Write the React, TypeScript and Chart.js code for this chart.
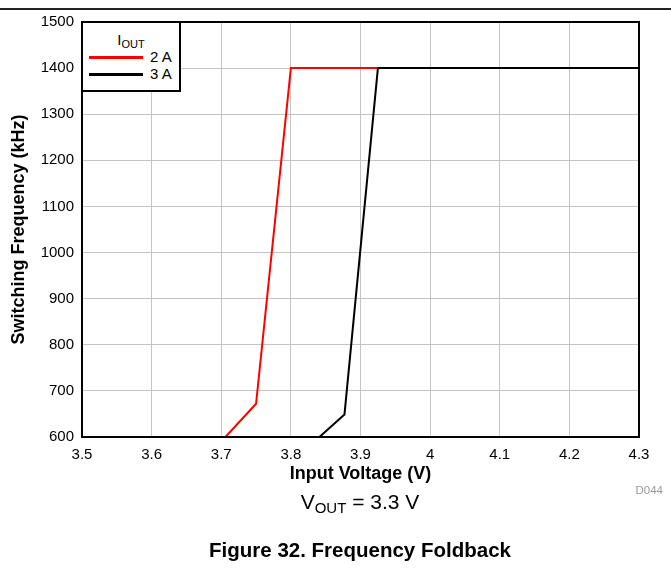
import React, { useEffect, useRef } from "react";
import { Chart, registerables } from "chart.js";

Chart.register(...registerables);

const xTickLabels = ["3.5", "3.6", "3.7", "3.8", "3.9", "4", "4.1", "4.2", "4.3"];
const yTickLabels = ["600", "700", "800", "900", "1000", "1100", "1200", "1300", "1400", "1500"];

const seriesNames = ["2 A", "3 A"];
const vin2A = [3.706, 3.75, 3.8, 4.3];
const freq2A = [600, 672, 1400, 1400];
const vin3A = [3.841, 3.877, 3.925, 4.3];
const freq3A = [600, 649, 1400, 1400];

const FONT = "Arial, 'Liberation Sans', Helvetica, sans-serif";

const framePlugin = {
  id: "frame",
  afterDatasetsDraw(chart: any) {
    const { ctx, chartArea } = chart;
    ctx.save();
    ctx.strokeStyle = "#000";
    ctx.lineWidth = 2;
    ctx.strokeRect(chartArea.left, chartArea.top, chartArea.right - chartArea.left, chartArea.bottom - chartArea.top);
    ctx.restore();
  },
};

export default function App() {
  const ref = useRef<HTMLCanvasElement>(null);

  useEffect(() => {
    if (!ref.current) return;
    const toPts = (xs: number[], ys: number[]) => xs.map((x, i) => ({ x, y: ys[i] }));
    const chart = new Chart(ref.current, {
      type: "line",
      data: {
        datasets: [
          {
            label: seriesNames[0],
            data: toPts(vin2A, freq2A),
            borderColor: "#ff0000",
            borderWidth: 2,
            pointRadius: 0,
            tension: 0,
            order: 1,
          },
          {
            label: seriesNames[1],
            data: toPts(vin3A, freq3A),
            borderColor: "#000000",
            borderWidth: 2,
            pointRadius: 0,
            tension: 0,
            order: 0,
          },
        ],
      },
      options: {
        responsive: false,
        animation: false,
        layout: { padding: { top: 22, right: 32, bottom: 0, left: 0 } },
        plugins: { legend: { display: false }, tooltip: { enabled: false } },
        scales: {
          x: {
            type: "linear",
            min: 3.5,
            max: 4.3,
            afterFit: (s: any) => {
              s.height = 139;
            },
            afterBuildTicks: (s: any) => {
              s.ticks = xTickLabels.map((t) => ({ value: parseFloat(t) }));
            },
            ticks: {
              padding: 9,
              color: "#000",
              font: { family: FONT, size: 15 },
              maxRotation: 0,
              callback: (_v: any, i: number) => xTickLabels[i],
            },
            grid: { color: "#c4c4c4", lineWidth: 1, drawTicks: false },
            border: { display: false },
            title: {
              display: true,
              text: "Input Voltage (V)",
              color: "#000",
              font: { family: FONT, size: 18, weight: "bold" },
              padding: { top: 0, bottom: 91 },
            },
          },
          y: {
            type: "linear",
            min: 600,
            max: 1500,
            afterFit: (s: any) => {
              s.width = 82;
            },
            afterBuildTicks: (s: any) => {
              s.ticks = yTickLabels.map((t) => ({ value: parseFloat(t) }));
            },
            ticks: {
              padding: 8,
              color: "#000",
              font: { family: FONT, size: 15 },
              callback: (_v: any, i: number) => yTickLabels[i],
            },
            grid: { color: "#c4c4c4", lineWidth: 1, drawTicks: false },
            border: { display: false },
            title: {
              display: true,
              text: "Switching Frequency (kHz)",
              color: "#000",
              font: { family: FONT, size: 18, weight: "bold" },
              padding: { top: 8, bottom: 0 },
            },
          },
        },
      },
      plugins: [framePlugin],
    });
    return () => chart.destroy();
  }, []);

  const abs = (o: React.CSSProperties): React.CSSProperties => ({ position: "absolute", ...o });

  return (
    <div style={{ position: "fixed", left: 0, top: 0, width: 671, height: 576, background: "#fff", fontFamily: FONT, overflow: "hidden" }}>
      <div style={abs({ left: 0, top: 8, width: 671, height: 1.5, background: "#222" })} />
      <canvas ref={ref} width={671} height={576} style={abs({ left: 0, top: 0, width: 671, height: 576 })} />
      <div
        style={abs({
          left: 81,
          top: 21,
          width: 100,
          height: 71,
          border: "2px solid #000",
          background: "#fff",
          boxSizing: "border-box",
        })}
      >
        <div style={abs({ left: 0, width: 96, top: 8, textAlign: "center", fontSize: 15, lineHeight: "17px", color: "#000" })}>
          I<sub style={{ fontSize: 11, verticalAlign: "-3px" }}>OUT</sub>
        </div>
        <div style={abs({ left: 6, top: 33, width: 54, height: 2.5, background: "#ff0000" })} />
        <div style={abs({ left: 67, top: 25, fontSize: 15, lineHeight: "18px", color: "#000" })}>{seriesNames[0]}</div>
        <div style={abs({ left: 6, top: 50, width: 54, height: 2.5, background: "#000" })} />
        <div style={abs({ left: 67, top: 42, fontSize: 15, lineHeight: "18px", color: "#000" })}>{seriesNames[1]}</div>
      </div>
      <div style={abs({ left: 600, width: 63, top: 483, textAlign: "right", fontSize: 11.5, lineHeight: "14px", color: "#999" })}>D044</div>
      <div style={abs({ left: 160, width: 400, top: 490, textAlign: "center", fontSize: 21, lineHeight: "24px", color: "#000" })}>
        V<sub style={{ fontSize: 15, verticalAlign: "-4px", lineHeight: 0 }}>OUT</sub> = 3.3 V
      </div>
      <div style={abs({ left: 160, width: 400, top: 538, textAlign: "center", fontSize: 20.5, lineHeight: "24px", fontWeight: "bold", color: "#000" })}>
        Figure 32. Frequency Foldback
      </div>
    </div>
  );
}
